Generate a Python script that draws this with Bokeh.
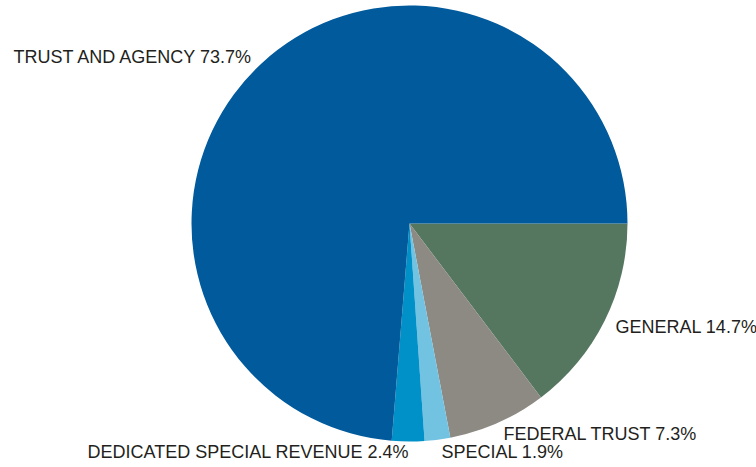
import math
from bokeh.plotting import figure
from bokeh.models import ColumnDataSource, Range1d
from bokeh.core.properties import value
from bokeh.embed import file_html
from bokeh.resources import INLINE

categories = ["GENERAL", "FEDERAL TRUST", "SPECIAL", "DEDICATED SPECIAL REVENUE", "TRUST AND AGENCY"]
shares = [14.7, 7.3, 1.9, 2.4, 73.7]
colors = ["#55765F", "#8D8A84", "#72C2E2", "#0091C8", "#005A9C"]

# label anchor (left edge, vertical middle) in pixel-like coordinates (y up)
label_x = [615, 503, 441, 87, 13]
label_y = [141, 34, 16, 16, 411]

W, H = 756, 467
cx, cy, r = 409, 244, 218

starts, ends = [], []
cum = 0.0
for s in shares:
    starts.append(-cum / 100 * 2 * math.pi)
    cum += s
    ends.append(-cum / 100 * 2 * math.pi)

src = ColumnDataSource(dict(cat=categories, share=shares, color=colors,
                            start=starts, end=ends))

p = figure(width=W, height=H, output_backend="svg", toolbar_location=None,
           x_range=Range1d(0, W), y_range=Range1d(0, H), min_border=0)
p.axis.visible = False
p.grid.visible = False
p.outline_line_color = None

p.wedge(x=cx, y=cy, radius=r, start_angle="start", end_angle="end",
        direction="clock", fill_color="color", line_color=None, source=src)

labels = [f"{c} {s}%" for c, s in zip(categories, shares)]
lsrc = ColumnDataSource(dict(x=label_x, y=label_y, t=labels))
p.text(x="x", y="y", text="t", source=lsrc, text_font=value("Liberation Sans"),
       text_font_size="18px", text_color="#231F20", text_baseline="middle",
       text_align="left")

open("out.html", "w").write(file_html(p, INLINE))
